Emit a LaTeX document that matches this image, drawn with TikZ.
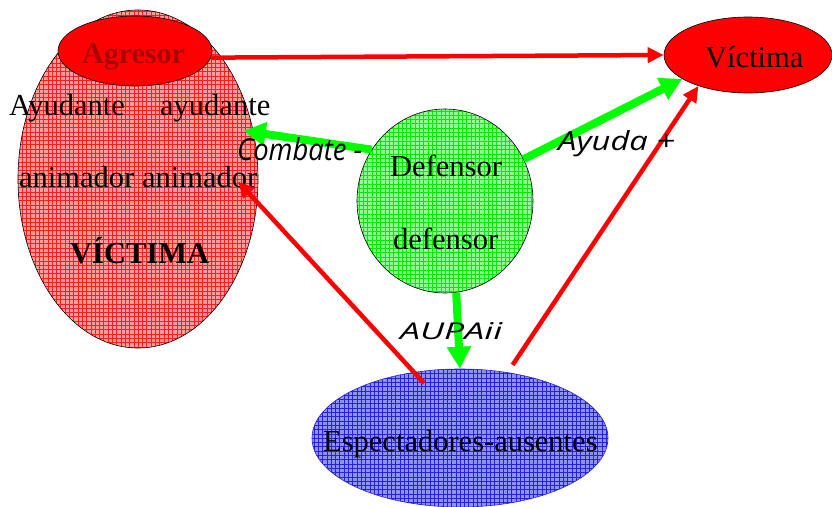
\documentclass[tikz,border=0pt]{standalone}
\usepackage{fontspec}
\usepackage{graphicx}
\setmainfont{Liberation Serif}
\newfontfamily\handfont{Open Sans}
\usetikzlibrary{shapes.geometric,arrows.meta}
\definecolor{pinkfill}{RGB}{255,155,155}
\definecolor{gridred}{RGB}{255,30,30}
\definecolor{greenfill}{RGB}{145,255,145}
\definecolor{gridgreen}{RGB}{0,235,0}
\definecolor{bluefill}{RGB}{145,145,240}
\definecolor{gridblue}{RGB}{35,35,215}
\definecolor{agrtext}{RGB}{170,0,0}
\tikzset{
  gridfill/.style={path picture={\draw[#1, line width=0.35pt, step=4.3pt]
      (path picture bounding box.south west) grid (path picture bounding box.north east);}},
  shapebox/.style={shape=ellipse, inner sep=0pt},
  serif/.style={font=\fontsize{30.5}{36}\selectfont, inner sep=0pt, anchor=base west},
  hand/.style={font=\handfont\itshape\fontsize{21}{24}\selectfont, inner sep=0pt, anchor=base west},
  redarrow/.style={draw=red, line width=4.5pt, -{Triangle[length=16pt,width=15pt]}},
  greenarrow/.style={draw=green, line width=8pt, -{Triangle[length=22pt,width=23pt]}}
}
\begin{document}
\begin{tikzpicture}[x=1pt,y=-1pt]
\useasboundingbox (0,0) rectangle (832,506);
% shapes
\node[shapebox, minimum width=240pt, minimum height=338pt, fill=pinkfill, draw=black, line width=0.6pt, gridfill=gridred] (big) at (138,179) {};
\node[shapebox, minimum width=154pt, minimum height=70pt, fill=red, draw=black, line width=0.6pt] (agr) at (135,51) {};
\node[shapebox, minimum width=168pt, minimum height=76pt, fill=red, draw=black, line width=0.6pt] (vic) at (748,55) {};
\node[shapebox, minimum width=176pt, minimum height=184pt, fill=greenfill, draw=black, line width=0.6pt, gridfill=gridgreen] (def) at (445,201) {};
\node[shapebox, minimum width=296pt, minimum height=138pt, fill=bluefill, draw=gridblue, line width=0.6pt, gridfill=gridblue] (esp) at (460,438) {};
% texts
\node[serif, text=agrtext, font=\bfseries\fontsize{30}{36}\selectfont] (tagr) at (82,63) {Agresor};
\node[serif] (tay1) at (9,115) {Ayudante};
\node[serif] (tay2) at (160,115) {ayudante};
\node[serif] (tani) at (19,187) {animador animador};
\node[serif, font=\bfseries\fontsize{30.5}{36}\selectfont] (tvicb) at (70,263) {VÍCTIMA};
\node[serif] (tvic) at (705,67) {Víctima};
\node[serif] (tdef1) at (390,176) {Defensor};
\node[serif] (tdef2) at (393,249) {defensor};
\node[serif] (tesp) at (323,451) {Espectadores-ausentes};
% connectors
\draw[redarrow] (agr.-5) -- (vic.west);
\draw[greenarrow, shorten >=-10pt] (def.145) -- (big.22);
\draw[greenarrow] (def.28) -- (vic.200);
\draw[greenarrow] (def.-83) -- (esp.north);
\draw[redarrow, shorten <=-15pt, shorten >=-28pt] (esp.125.6) -- (big.-11.4);
\draw[redarrow, shorten <=9pt] (esp.54.5) -- (vic.212);
% labels
\node[hand] (lcomb) at (237,160) {\resizebox{125pt}{23pt}{Combate -}};
\node[hand] (lay) at (558,150) {\resizebox{117pt}{20pt}{Ayuda +}};
\node[hand] (laupa) at (400,339) {\resizebox{102pt}{17pt}{AUPAii}};
\end{tikzpicture}
\end{document}
